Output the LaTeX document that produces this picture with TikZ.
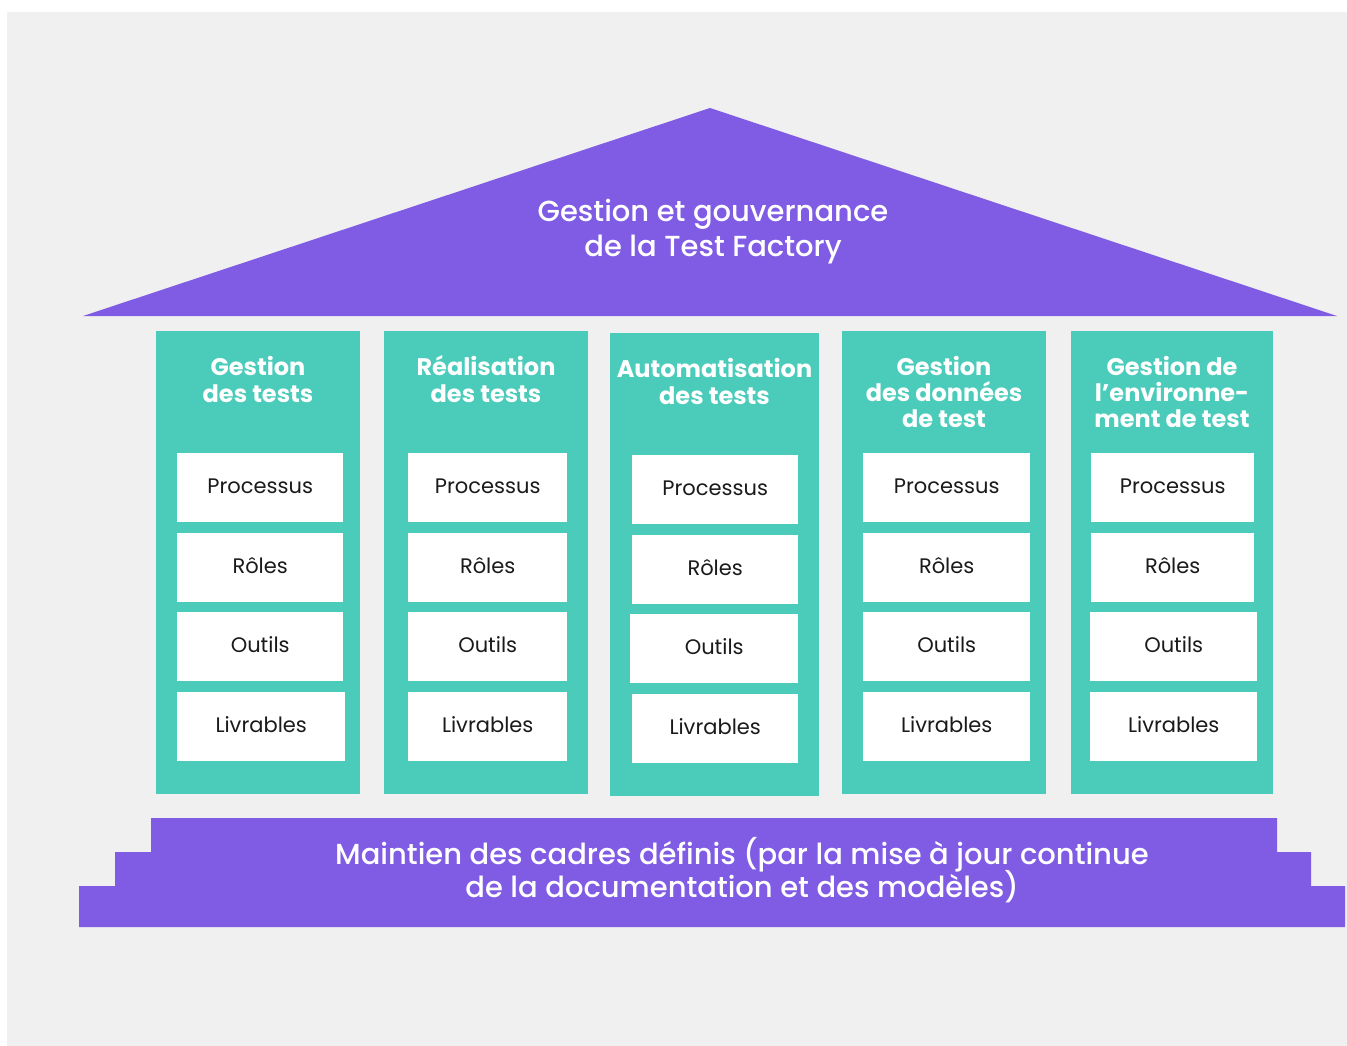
\documentclass[tikz,border=0pt]{standalone}
\usepackage{fontspec}
\setmainfont{Poppins}
\newfontfamily\pmedium{Poppins Medium}
\definecolor{bgc}{HTML}{F0F0F0}
\definecolor{roofc}{HTML}{805CE5}
\definecolor{pillarc}{HTML}{4BCCBB}
\definecolor{ink}{HTML}{1A1A1A}
\begin{document}
\begin{tikzpicture}[x=1pt,y=-1pt,
  pillar/.style={fill=pillarc, draw=none, inner sep=0pt, anchor=north west},
  itembox/.style={fill=white, draw=none, inner sep=0pt, anchor=north west, text=ink,
    font=\fontsize{21}{25}\selectfont, text height=12pt, text depth=0pt, minimum height=69pt},
  head/.style={text=white, font=\bfseries\fontsize{24}{27}\selectfont, inner sep=0pt, anchor=base},
  bigtext/.style={text=white, font=\pmedium\fontsize{29}{33}\selectfont, inner sep=0pt, anchor=base}]
\useasboundingbox (0,0) rectangle (1347,1046);
\fill[bgc] (7,12) rectangle (1347,1046);
% roof
\fill[roofc] (710,108) -- (1337,316) -- (83,316) -- cycle;
\node[bigtext] (roof1) at (713,222) {Gestion et gouvernance};
\node[bigtext] (roof2) at (713,256.5) {de la Test Factory};
% base steps
\fill[roofc] (79,927) -- (79,886) -- (115,886) -- (115,852) -- (151,852) -- (151,818)
  -- (1277,818) -- (1277,852) -- (1311,852) -- (1311,886) -- (1345,886) -- (1345,927) -- cycle;
\node[bigtext] (base1) at (742,864) {Maintien des cadres définis (par la mise à jour continue};
\node[bigtext] (base2) at (742,897) {de la documentation et des modèles)};
% pillars
\node[pillar, minimum width=204pt, minimum height=463pt] (col1) at (156,331) {};
\node[pillar, minimum width=204pt, minimum height=463pt] (col2) at (384,331) {};
\node[pillar, minimum width=209pt, minimum height=463pt] (col3) at (610,333) {};
\node[pillar, minimum width=204pt, minimum height=463pt] (col4) at (842,331) {};
\node[pillar, minimum width=202pt, minimum height=463pt] (col5) at (1071,331) {};
% headings
\node[head] (h1a) at (258,375) {Gestion};
\node[head] (h1b) at (258,402) {des tests};
\node[head] (h2a) at (486,375) {Réalisation};
\node[head] (h2b) at (486,402) {des tests};
\node[head] (h3a) at (714.5,377) {Automatisation};
\node[head] (h3b) at (714.5,404) {des tests};
\node[head] (h4a) at (944,375) {Gestion};
\node[head] (h4b) at (944,401.5) {des données};
\node[head] (h4c) at (944,427.5) {de test};
\node[head] (h5a) at (1172,375) {Gestion de};
\node[head] (h5b) at (1172,401.5) {l’environne-};
\node[head] (h5c) at (1172,427.5) {ment de test};
% column 1
\node[itembox, minimum width=166pt] (p1) at (177,453) {Processus};
\node[itembox, minimum width=166pt] (r1) at (177,533) {Rôles};
\node[itembox, minimum width=166pt] (o1) at (177,612) {Outils};
\node[itembox, minimum width=168pt] (l1) at (177,692) {Livrables};
% column 2
\node[itembox, minimum width=159pt] (p2) at (408,453) {Processus};
\node[itembox, minimum width=159pt] (r2) at (408,533) {Rôles};
\node[itembox, minimum width=159pt] (o2) at (408,612) {Outils};
\node[itembox, minimum width=159pt] (l2) at (408,692) {Livrables};
% column 3
\node[itembox, minimum width=166pt] (p3) at (632,455) {Processus};
\node[itembox, minimum width=166pt] (r3) at (632,535) {Rôles};
\node[itembox, minimum width=168pt] (o3) at (630,614) {Outils};
\node[itembox, minimum width=166pt] (l3) at (632,694) {Livrables};
% column 4
\node[itembox, minimum width=167pt] (p4) at (863,453) {Processus};
\node[itembox, minimum width=167pt] (r4) at (863,533) {Rôles};
\node[itembox, minimum width=167pt] (o4) at (863,612) {Outils};
\node[itembox, minimum width=167pt] (l4) at (863,692) {Livrables};
% column 5
\node[itembox, minimum width=163pt] (p5) at (1091,453) {Processus};
\node[itembox, minimum width=163pt] (r5) at (1091,533) {Rôles};
\node[itembox, minimum width=167pt] (o5) at (1090,612) {Outils};
\node[itembox, minimum width=167pt] (l5) at (1090,692) {Livrables};
\end{tikzpicture}
\end{document}
